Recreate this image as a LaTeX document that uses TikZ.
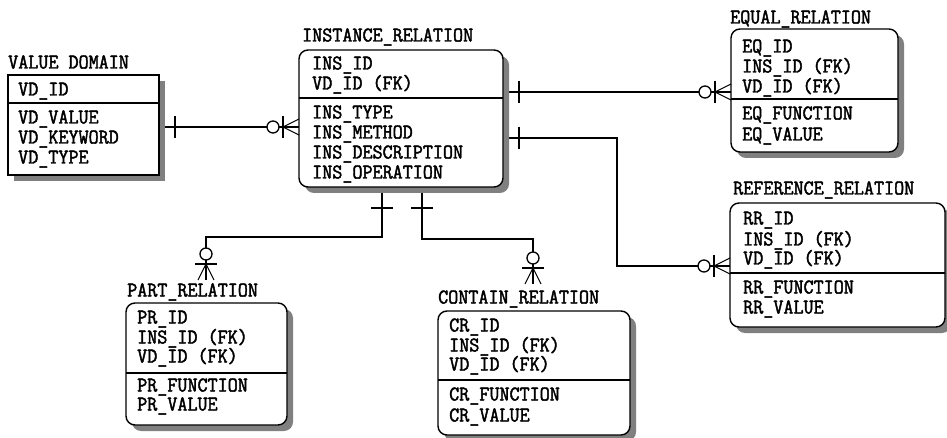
\documentclass[tikz,border=0pt]{standalone}
\usepackage{fontspec}
\newfontfamily\erfont[FakeStretch=0.93,FakeBold=2]{Latin Modern Mono}
\usetikzlibrary{calc}
\definecolor{shadowc}{gray}{0.5}
\tikzset{
  ent/.style={inner sep=0pt, outer sep=0pt, rectangle},
  rnd/.style={rounded corners=9pt},
  txt/.style={anchor=base west, inner sep=0pt, font=\erfont\fontsize{21}{21}\selectfont},
  divider/.style={line width=1.4pt},
  conn/.style={line width=1.3pt},
  onemark/.pic={\draw[line width=1.3pt] (16,-11) -- (16,11);},
  manymark/.pic={\draw[line width=1.3pt] (-16,-11) -- (-16,11);
    \draw[line width=1.1pt] (-16,0) -- (0,-8) (-16,0) -- (0,8);
    \draw[line width=1.3pt, fill=white] (-26,0) circle (6);}
}
\newcommand\us{\char"5F\relax}
\newcommand\erattr[4]{\node[txt] (#1) at (#2,#3+6.5) {#4};}
\newcommand\erbox[2]{%
  \fill[shadowc, #2] ($(#1.north west)+(6,6)$) rectangle ($(#1.south east)+(6,6)$);
  \draw[line width=1.4pt, fill=white, #2] (#1.north west) rectangle (#1.south east);}
\begin{document}
\begin{tikzpicture}[x=1pt,y=-1pt]
\useasboundingbox (0,0) rectangle (947,438);
% entity frames (named)
\node[ent, minimum width=151pt, minimum height=100pt] (vd) at (83.5,125) {};
\node[ent, minimum width=204pt, minimum height=137pt] (ir) at (401,118.5) {};
\node[ent, minimum width=167pt, minimum height=123pt] (eq) at (814.5,90.5) {};
\node[ent, minimum width=215pt, minimum height=124pt] (rr) at (837.5,265) {};
\node[ent, minimum width=161pt, minimum height=122pt] (pr) at (206.5,364) {};
\node[ent, minimum width=192pt, minimum height=124pt] (cr) at (534,373) {};
% connector coordinates
\coordinate (c1a) at (vd.east |- 0,127);
\coordinate (c1b) at (ir.west |- 0,127);
\coordinate (c2a) at (ir.east |- 0,92);
\coordinate (c2b) at (eq.west |- 0,92);
\coordinate (c3a) at (ir.east |- 0,138);
\coordinate (c3k) at (617,266);
\coordinate (c3b) at (rr.west |- 0,266);
\coordinate (c4a) at (ir.south -| 382,0);
\coordinate (c4k) at (206,237);
\coordinate (c4b) at (206,280);
\coordinate (c5a) at (ir.south -| 422,0);
\coordinate (c5k) at (533,239);
\coordinate (c5b) at (533,284);
\draw[conn] (c1a) -- (c1b);
\draw[conn] (c2a) -- (c2b);
\draw[conn] (c3a) -| (c3k) -- (c3b);
\draw[conn] (c4a) |- (c4k) -- (c4b);
\draw[conn] (c5a) |- (c5k) -- (c5b);
% boxes with shadows
\erbox{vd}{sharp corners}
\erbox{ir}{rnd}
\erbox{eq}{rnd}
\erbox{rr}{rnd}
\erbox{pr}{rnd}
\erbox{cr}{rnd}
% dividers
\draw[divider] (vd.west |- 0,103) -- (vd.east |- 0,103);
\draw[divider] (ir.west |- 0,98) -- (ir.east |- 0,98);
\draw[divider] (eq.west |- 0,99) -- (eq.east |- 0,99);
\draw[divider] (rr.west |- 0,273) -- (rr.east |- 0,273);
\draw[divider] (pr.west |- 0,373) -- (pr.east |- 0,373);
\draw[divider] (cr.west |- 0,380) -- (cr.east |- 0,380);
% VALUE DOMAIN
\erattr{vdt}{8}{62}{VALUE DOMAIN}
\erattr{vd1}{18}{89}{VD\us ID}
\erattr{vd2}{18}{117}{VD\us VALUE}
\erattr{vd3}{18}{137}{VD\us KEYWORD}
\erattr{vd4}{18}{157}{VD\us TYPE}
% INSTANCE_RELATION
\erattr{irt}{302}{35}{INSTANCE\us RELATION}
\erattr{ir1}{312}{63}{INS\us ID}
\erattr{ir2}{312}{83}{VD\us ID (FK)}
\erattr{ir3}{312}{112}{INS\us TYPE}
\erattr{ir4}{312}{132}{INS\us METHOD}
\erattr{ir5}{312}{152}{INS\us DESCRIPTION}
\erattr{ir6}{312}{172}{INS\us OPERATION}
% EQUAL_RELATION
\erattr{eqt}{730}{17}{EQUAL\us RELATION}
\erattr{eq1}{742}{46}{EQ\us ID}
\erattr{eq2}{742}{66}{INS\us ID (FK)}
\erattr{eq3}{742}{86}{VD\us ID (FK)}
\erattr{eq4}{742}{113}{EQ\us FUNCTION}
\erattr{eq5}{742}{134}{EQ\us VALUE}
% REFERENCE_RELATION
\erattr{rrt}{733}{188}{REFERENCE\us RELATION}
\erattr{rr1}{743}{218}{RR\us ID}
\erattr{rr2}{743}{239}{INS\us ID (FK)}
\erattr{rr3}{743}{258}{VD\us ID (FK)}
\erattr{rr4}{743}{287}{RR\us FUNCTION}
\erattr{rr5}{743}{307}{RR\us VALUE}
% PART_RELATION
\erattr{prt}{127}{290}{PART\us RELATION}
\erattr{pr1}{137}{317}{PR\us ID}
\erattr{pr2}{137}{337}{INS\us ID (FK)}
\erattr{pr3}{137}{356}{VD\us ID (FK)}
\erattr{pr4}{137}{385}{PR\us FUNCTION}
\erattr{pr5}{137}{404}{PR\us VALUE}
% CONTAIN_RELATION
\erattr{crt}{438}{297}{CONTAIN\us RELATION}
\erattr{cr1}{449}{325}{CR\us ID}
\erattr{cr2}{449}{345}{INS\us ID (FK)}
\erattr{cr3}{449}{364}{VD\us ID (FK)}
\erattr{cr4}{449}{394}{CR\us FUNCTION}
\erattr{cr5}{449}{415}{CR\us VALUE}
% cardinality marks
\pic at (c1a) {onemark};
\pic at (c2a) {onemark};
\pic at (c3a) {onemark};
\pic[rotate=-90] at ([yshift=-5pt]c4a) {onemark};
\pic[rotate=-90] at ([yshift=-5pt]c5a) {onemark};
\pic at (c1b) {manymark};
\pic at (c2b) {manymark};
\pic at (c3b) {manymark};
\pic[rotate=-90] at (c4b) {manymark};
\pic[rotate=-90] at (c5b) {manymark};
\end{tikzpicture}
\end{document}
